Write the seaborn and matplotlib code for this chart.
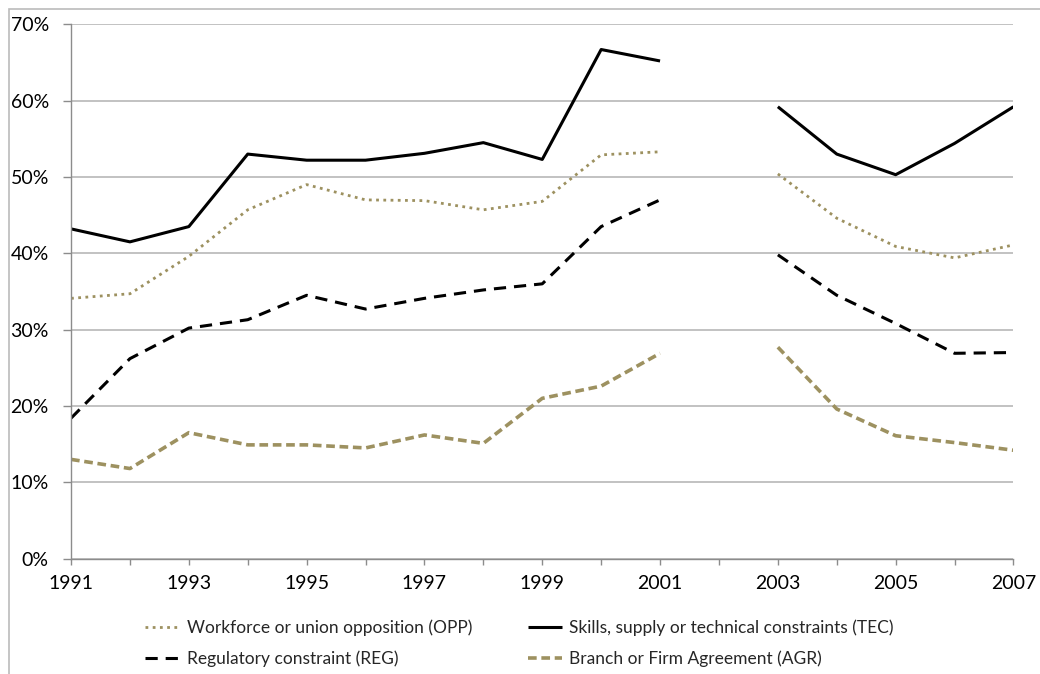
import matplotlib
matplotlib.use("Agg")
import matplotlib.pyplot as plt
import matplotlib.patches as mpatches
from matplotlib.ticker import FuncFormatter, MultipleLocator
import seaborn as sns
import numpy as np
import pandas as pd

# --- data (percent), 2002 missing ---
years = list(range(1991, 2008))
opp = [34.1, 34.7, 39.6, 45.7, 49.0, 47.0, 46.9, 45.7, 46.8, 52.9, 53.3, np.nan,
       50.4, 44.6, 40.9, 39.4, 41.1]
tec = [43.2, 41.5, 43.5, 53.0, 52.2, 52.2, 53.1, 54.5, 52.3, 66.7, 65.2, np.nan,
       59.2, 53.0, 50.3, 54.4, 59.2]
reg = [18.4, 26.2, 30.2, 31.3, 34.5, 32.7, 34.1, 35.2, 36.0, 43.5, 47.0, np.nan,
       39.8, 34.5, 30.8, 26.9, 27.0]
agr = [13.0, 11.8, 16.5, 14.9, 14.9, 14.5, 16.2, 15.1, 21.0, 22.6, 26.9, np.nan,
       27.7, 19.6, 16.1, 15.2, 14.2]
labels = ["Workforce or union opposition (OPP)",
          "Skills, supply or technical constraints (TEC)",
          "Regulatory constraint (REG)",
          "Branch or Firm Agreement (AGR)"]

olive = "#9D9160"
grid_col = "#BDBDBD"
axis_col = "#8C8C8C"

sns.set_style("white")
plt.rcParams["font.family"] = ["Lato", "DejaVu Sans"]

fig = plt.figure(figsize=(10.4, 6.74), dpi=100)
ax = fig.add_axes([0.0683, 0.1712, 0.9745 - 0.0683, 0.9639 - 0.1712])

styles = [
    dict(color=olive, lw=2.0, dashes=(1.0, 1.6)),
    dict(color="black", lw=2.2, dashes=()),
    dict(color="black", lw=2.2, dashes=(4.0, 2.6)),
    dict(color=olive, lw=2.6, dashes=(2.4, 1.3)),
]

handles = []
for vals, lab, st in zip([opp, tec, reg, agr], labels, styles):
    df = pd.DataFrame({"year": years, "value": vals})
    df["seg"] = (df["year"] > 2002).astype(int)
    df = df.dropna()
    sns.lineplot(data=df, x="year", y="value", units="seg", estimator=None,
                 ax=ax, color=st["color"], lw=st["lw"], dashes=st["dashes"],
                 solid_capstyle="butt", dash_capstyle="butt")
    handles.append(ax.lines[-1])

ax.set_xlim(1991, 2007)
ax.set_ylim(0, 70)
ax.yaxis.set_major_locator(MultipleLocator(10))
ax.yaxis.set_major_formatter(FuncFormatter(lambda v, p: f"{v:.0f}%"))
ax.set_xticks(years)
ax.set_xticklabels([str(y) if y % 2 == 1 else "" for y in years])
ax.set_xlabel("")
ax.set_ylabel("")

ax.grid(axis="y", color=grid_col, lw=1.3)
ax.grid(axis="x", visible=False)
ax.set_axisbelow(True)
for s in ["top", "right"]:
    ax.spines[s].set_visible(False)
for s in ["left", "bottom"]:
    ax.spines[s].set_color(axis_col)
    ax.spines[s].set_linewidth(1.0)

ax.tick_params(axis="y", length=6, width=1, color=axis_col, pad=10,
               labelsize=14, labelcolor="black", left=True)
ax.tick_params(axis="x", length=4, width=1, color=axis_col, pad=8,
               labelsize=14, labelcolor="black", bottom=True)

order = [0, 2, 1, 3]
fig.legend([handles[i] for i in order], [labels[i] for i in order],
           loc="center left", bbox_to_anchor=(145 / 1040, 1 - 643.5 / 674),
           ncol=2, frameon=False, borderpad=0, borderaxespad=0,
           fontsize=12.5, handlelength=2.0, handletextpad=0.4,
           columnspacing=3.2, labelspacing=0.85)

# chart area border (only left and top edges visible)
fig.patches.append(mpatches.Rectangle((0.0087, -0.2), 1.5, 0.9862 + 0.2,
                                      transform=fig.transFigure, fill=False,
                                      edgecolor="#BBBBBB", lw=1.2))

fig.savefig("out.png", dpi=100)
